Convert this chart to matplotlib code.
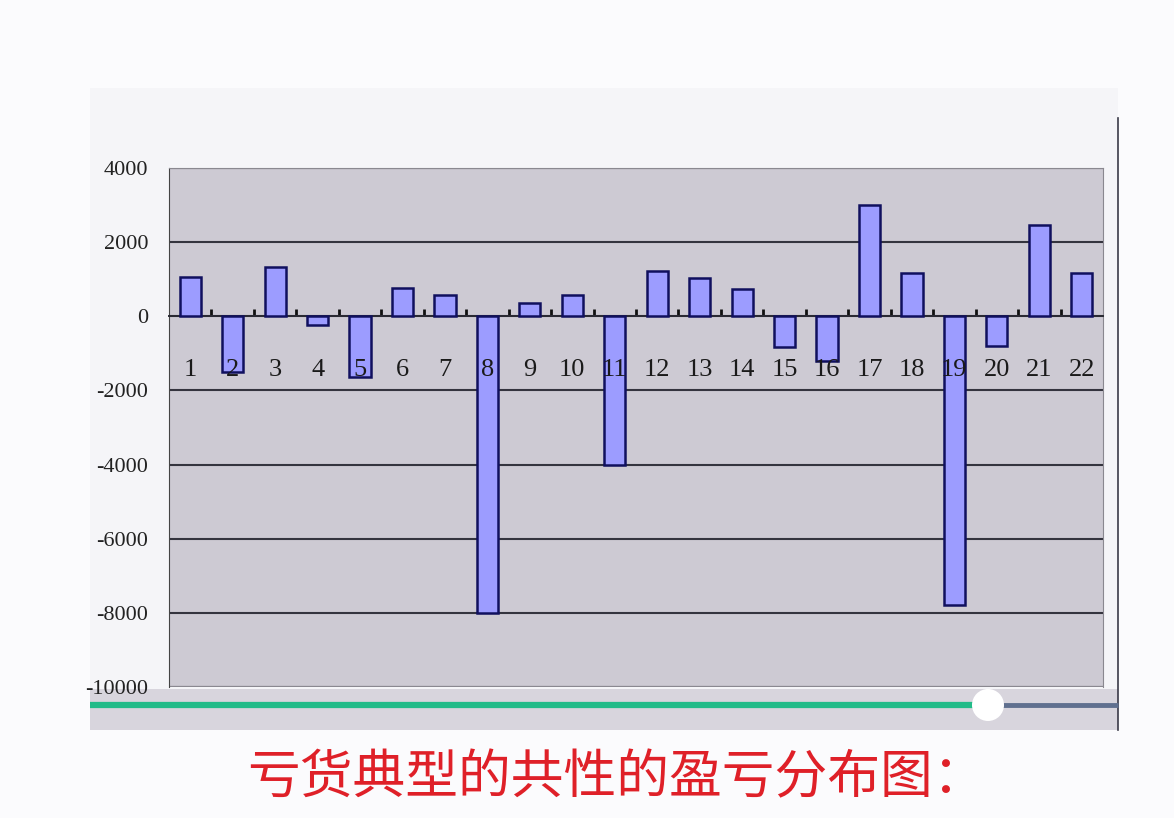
import matplotlib
matplotlib.use("Agg")
import matplotlib.pyplot as plt
from matplotlib.patches import Rectangle, Circle

# --- data ---
days = [str(i) for i in range(1, 23)]
pnl = [1050, -1500, 1320, -240, -1650, 760, 570, -8000, 370, 570, -4000,
       1230, 1020, 740, -820, -1200, 3000, 1170, -7800, -800, 2450, 1160]
y_ticks = [4000, 2000, 0, -2000, -4000, -6000, -8000, -10000]
caption = "亏货典型的共性的盈亏分布图："

W, H = 1174, 818
fig = plt.figure(figsize=(W / 100, H / 100), dpi=100)
fig.patch.set_facecolor("#fbfbfd")

# background layer in pixel coords (screenshot frame, slider)
bg = fig.add_axes([0, 0, 1, 1], zorder=0)
bg.set_xlim(0, W)
bg.set_ylim(H, 0)
bg.axis("off")
bg.add_patch(Rectangle((90, 88), 1028, 642, facecolor="#f5f5f8", edgecolor="none"))
bg.add_patch(Rectangle((90, 689), 1028, 41, facecolor="#d8d5dd", edgecolor="none"))
bg.plot([1118, 1118], [118, 730], color="#3a3a48", lw=1.2)
bg.plot([90, 985], [705, 705], color="#22bb88", lw=4.5, solid_capstyle="butt")
bg.plot([1000, 1118], [705, 705], color="#60708f", lw=3.5, solid_capstyle="butt")
bg.add_patch(Circle((988, 705), 16, facecolor="white", edgecolor="none", zorder=5))

# --- the chart itself ---
left, right, top, bottom = 169, 1103, 168, 687
ax = fig.add_axes([left / W, 1 - bottom / H, (right - left) / W, (bottom - top) / H], zorder=2)
ax.set_facecolor("#cdcad3")

x = list(range(1, len(days) + 1))
ax.bar(x, pnl, width=0.5, color="#9c9cff", edgecolor="#10105e", linewidth=1.8, zorder=3)

ax.set_xlim(0.5, len(days) + 0.5)
ax.set_ylim(-10000, 4000)
ax.set_yticks(y_ticks)
ax.set_yticklabels([str(v) for v in y_ticks], fontfamily="Liberation Serif", fontsize=16, color="#222")
ax.tick_params(axis="y", length=0, pad=15)
ax.yaxis.grid(True, color="#34343e", linewidth=1.5)
ax.set_axisbelow(True)

# zero axis with small boundary ticks
ax.spines["bottom"].set_position(("data", 0))
ax.spines["bottom"].set_color("#2a2a33")
ax.spines["bottom"].set_linewidth(1.4)
ax.set_xticks([i + 0.5 for i in x[:-1]])
ax.set_xticklabels([])
ax.tick_params(axis="x", direction="in", length=5, width=2, color="#111")
for side in ["top", "right"]:
    ax.spines[side].set_color("#8a8890")
ax.spines["left"].set_color("#444")
ax.axhline(-10000, color="#8a8890", lw=1.5)

for xi, lab in zip(x, days):
    ax.text(xi, -1450, lab, ha="center", va="center", fontfamily="Liberation Serif",
            fontsize=19, color="#1a1a1a", zorder=4)

fig.text(616 / W, 1 - 778 / H, caption, ha="center", va="center", color="#df2028",
         fontsize=38, family=["Noto Sans CJK SC", "DejaVu Sans"])

fig.savefig("out.png", dpi=100, facecolor=fig.get_facecolor())
